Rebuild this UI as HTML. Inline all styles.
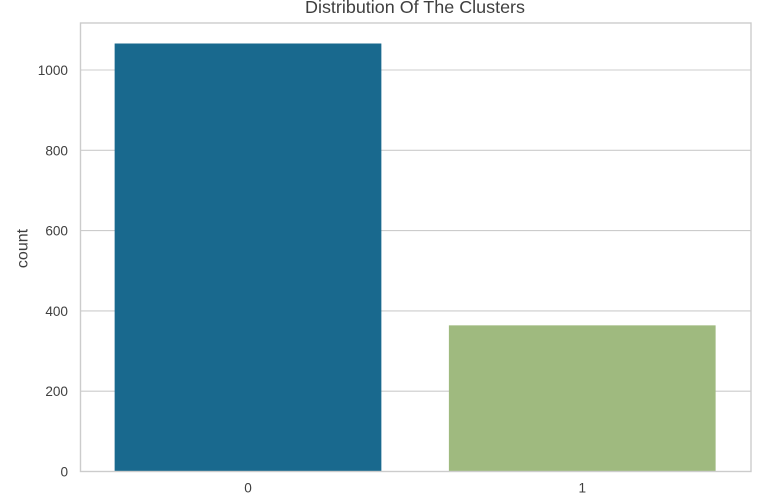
<!DOCTYPE html>
<html>
<head>
<meta charset="utf-8">
<style>
html,body{margin:0;padding:0;background:#fff;width:768px;height:503px;overflow:hidden}
svg{display:block;filter:blur(0.35px)}
text{font-family:"Liberation Sans",Arial,sans-serif;fill:#3f3f3f}
</style>
</head>
<body>
<svg id="chart" xmlns="http://www.w3.org/2000/svg" width="768" height="503" viewBox="0 0 768 503">
<text x="415" y="13" font-size="17.6" text-anchor="middle" textLength="220" lengthAdjust="spacingAndGlyphs">Distribution Of The Clusters</text>
<text transform="translate(27.5 248.5) rotate(-90)" font-size="16" text-anchor="middle">count</text>
</svg>
<script>
const categories = ['0', '1'];
const counts = [1066, 364];
const barColors = ['#19698e', '#9fba7f'];
const yTicks = [0, 200, 400, 600, 800, 1000];

const NS = 'http://www.w3.org/2000/svg';
const svg = document.getElementById('chart');
const plotLeft = 80.5, plotRight = 751, plotTop = 23, plotBottom = 471.5;
const pxPerUnit = 0.4015;
const y = v => plotBottom - v * pxPerUnit;
const firstCenter = 248, band = 334.25;
const x = i => firstCenter + band * i;
const barWidth = band * 0.798;

function make(tag, props) {
  const el = document.createElementNS(NS, tag);
  for (const k in props) el.setAttribute(k, props[k]);
  svg.appendChild(el);
  return el;
}

yTicks.forEach(t => {
  if (t !== 0) {
    const line = make('line', {x1: plotLeft, x2: plotRight, y1: y(t), y2: y(t), stroke: '#cccccc', 'stroke-width': 1.1});
    
    
  }
  const label = make('text', {x: 68, y: y(t) + 5, 'font-size': 13.6, 'text-anchor': 'end'});
  label.textContent = t;
  
  
});

categories.forEach((c, i) => {
  const bar = make('rect', {x: x(i) - barWidth / 2, y: y(counts[i]), width: barWidth, height: plotBottom - y(counts[i]), fill: barColors[i]});
  
  
  const label = make('text', {x: x(i), y: 492.5, 'font-size': 13.6, 'text-anchor': 'middle'});
  label.textContent = c;
  
  
});

const frame = make('rect', {x: plotLeft, y: plotTop, width: plotRight - plotLeft, height: plotBottom - plotTop, fill: 'none', stroke: '#cccccc', 'stroke-width': 1.4});


</script>
</body>
</html>
